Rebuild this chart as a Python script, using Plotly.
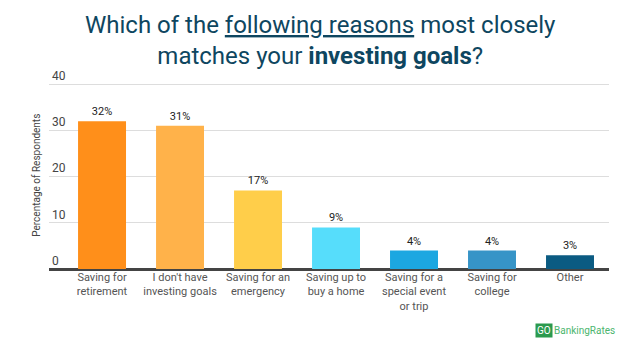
import plotly.graph_objects as go

categories = ["Saving for<br>retirement", "I don't have<br>investing goals", "Saving for an<br>emergency",
              "Saving up to<br>buy a home", "Saving for a<br>special event<br>or trip", "Saving for<br>college", "Other"]
values = [32, 31, 17, 9, 4, 4, 3]
labels = ["32%", "31%", "17%", "9%", "4%", "4%", "3%"]
colors = ["#FF8F1A", "#FFB24A", "#FFCE4A", "#56DDFB", "#1CA7E1", "#3694C7", "#0B5B82"]
yticks = [0, 10, 20, 30, 40]

L, R, T, B = 49, 31, 68, 90.5
PW, PH = 640 - L - R, 360 - T - B

def px(x):
    return (x - L) / PW

def py(y):
    return (360 - B - y) / PH

fig = go.Figure(go.Bar(
    x=list(range(len(categories))), y=values, marker_color=colors, marker_line_width=0,
    text=labels, textposition="outside", cliponaxis=False,
    textfont=dict(family="Roboto", size=11, color="#222"),
))

fig.update_layout(
    width=640, height=360, paper_bgcolor="white", plot_bgcolor="white",
    margin=dict(l=L, r=R, t=T, b=B, autoexpand=False),
    bargap=0.385, showlegend=False,
    font=dict(family="Roboto", color="#444"),
)
fig.update_xaxes(tickmode="array", tickvals=list(range(len(categories))), ticktext=categories,
                 range=[-0.68, 6.5], showgrid=False, zeroline=False, showline=False, tickangle=0,
                 automargin=False,
                 tickfont=dict(family="Roboto", size=11, color="#555"), ticks="", ticklen=0)
fig.update_yaxes(range=[0, 43.5], tickvals=yticks, ticktext=[str(t) for t in yticks], automargin=False,
                 ticklabelposition="inside top", tickfont=dict(family="Roboto", size=12, color="#444"),
                 gridcolor="#DDDDDD", gridwidth=1, zeroline=True, zerolinecolor="#444", zerolinewidth=2.5,
                 showline=False, ticks="")

fig.add_annotation(x=px(320), y=py(40), xref="paper", yref="paper",
                   text="Which of the <u>following reasons</u> most closely<br>matches your <b>investing goals</b>?",
                   showarrow=False, xanchor="center", yanchor="middle",
                   font=dict(family="Roboto", size=24, color="#0E4660"))
fig.add_annotation(x=px(37), y=py(176), xref="paper", yref="paper", text="Percentage of Respondents",
                   textangle=-90, showarrow=False, xanchor="center", yanchor="middle",
                   font=dict(family="Roboto", size=10, color="#444"))
fig.add_annotation(x=px(535), y=py(324), xref="paper", yref="paper", text="GO", showarrow=False,
                   font=dict(family="Roboto", size=10, color="white"), bgcolor="#2B9A4E",
                   borderpad=1, xanchor="left", yanchor="top")
fig.add_annotation(x=px(552), y=py(324), xref="paper", yref="paper", text="BankingRates",
                   showarrow=False, font=dict(family="Roboto", size=10, color="#4CB56E"),
                   xanchor="left", yanchor="top")

fig.write_html("out.html", config={"displayModeBar": False},
               post_script="document.body.style.margin='0';")
